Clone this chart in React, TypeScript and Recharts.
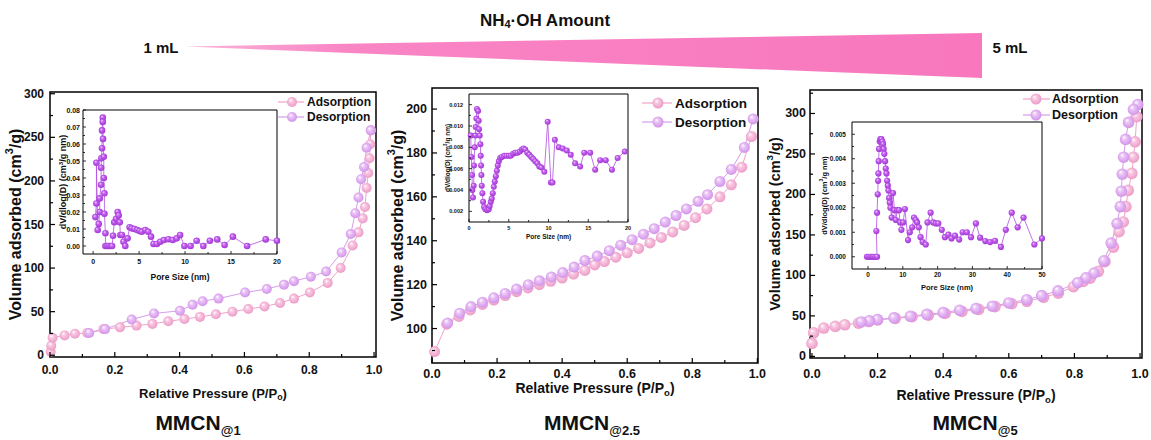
import React from "react";
import { LineChart, Line, XAxis, YAxis, ReferenceArea, Label } from "recharts";

const FONT = "'Liberation Sans', Arial, Helvetica, sans-serif";

// MMCN@1 isotherm (P/Po, cm3/g)
const mmcn1AdsP = [0.002, 0.004, 0.008, 0.045, 0.077, 0.115, 0.165, 0.216, 0.267, 0.316, 0.365, 0.415, 0.463, 0.512, 0.563, 0.612, 0.662, 0.71, 0.753, 0.802, 0.857, 0.897, 0.934, 0.952, 0.965, 0.972, 0.977, 0.982, 0.986, 0.988, 0.99];
const mmcn1AdsV = [4, 11, 20, 22.8, 24.7, 25.5, 30, 32, 34, 36, 39, 41.5, 44, 47, 50, 53, 56, 60, 65, 72, 83, 100, 126, 141, 157, 170, 192, 209, 226, 242, 258];
const mmcn1DesP = [0.99, 0.977, 0.969, 0.96, 0.952, 0.942, 0.928, 0.9, 0.852, 0.805, 0.753, 0.722, 0.669, 0.602, 0.52, 0.471, 0.44, 0.401, 0.321, 0.252, 0.17, 0.121];
const mmcn1DesV = [258, 238, 216, 202, 181, 163, 139, 118, 96, 90, 85, 81, 76, 72, 65, 62, 58, 51, 48, 41, 30, 25.5];

// MMCN@2.5 isotherm
const mmcn25AdsP = [0.008, 0.045, 0.083, 0.118, 0.155, 0.19, 0.225, 0.26, 0.295, 0.33, 0.365, 0.4, 0.435, 0.47, 0.5, 0.53, 0.565, 0.6, 0.635, 0.67, 0.705, 0.74, 0.775, 0.81, 0.845, 0.885, 0.92, 0.952, 0.982];
const mmcn25AdsV = [89.5, 102, 105.5, 108.5, 111, 113, 115, 116.8, 118.5, 120, 121.5, 123, 124.8, 126.5, 129, 130.5, 132.5, 134.5, 136.5, 139, 141.5, 144, 147, 150.5, 154.5, 160, 165.5, 173.5, 187.5];
const mmcn25DesP = [0.987, 0.96, 0.92, 0.885, 0.847, 0.818, 0.782, 0.75, 0.717, 0.683, 0.65, 0.615, 0.58, 0.545, 0.508, 0.47, 0.437, 0.402, 0.367, 0.33, 0.296, 0.26, 0.225, 0.19, 0.155, 0.12, 0.085, 0.048];
const mmcn25DesV = [195.5, 182.5, 172.5, 167, 161, 158, 154.5, 151.5, 148.5, 145.5, 143, 140.5, 138, 135.5, 133, 131, 128, 125.5, 123.5, 121.8, 120, 118, 116, 114, 112, 110, 107, 102.5];

// MMCN@5 isotherm
const mmcn5AdsP = [0.0, 0.005, 0.036, 0.071, 0.1, 0.142, 0.173, 0.2, 0.254, 0.305, 0.355, 0.406, 0.457, 0.508, 0.558, 0.609, 0.655, 0.706, 0.751, 0.797, 0.827, 0.848, 0.873, 0.893, 0.919, 0.936, 0.949, 0.957, 0.964, 0.975, 0.98, 0.985, 0.99];
const mmcn5AdsV = [16, 29, 35, 37, 39, 41, 43, 45, 47, 49, 51, 53, 55.5, 58, 61.5, 65, 68, 73, 78, 86, 92.5, 96.5, 105, 117, 135, 154, 166, 185, 205, 226, 246, 265, 296];
const mmcn5DesP = [0.993, 0.98, 0.965, 0.956, 0.95, 0.946, 0.943, 0.94, 0.93, 0.912, 0.89, 0.86, 0.835, 0.81, 0.75, 0.7, 0.655, 0.6, 0.55, 0.5, 0.45, 0.4, 0.35, 0.3, 0.25, 0.2, 0.175, 0.15];
const mmcn5DesV = [311, 305, 289, 268, 246, 225, 204, 185, 164, 140, 118, 103, 97, 91, 81, 75, 70, 66, 62, 59, 57, 54, 52, 49.5, 47.5, 45.5, 44, 42.5];

// pore size distributions (nm, dV/dlog(D))
const pore1D = [0.25, 0.36, 0.36, 0.5, 0.61, 0.72, 0.72, 0.87, 0.87, 0.9, 0.97, 0.97, 1.05, 1.05, 1.08, 1.16, 1.16, 1.23, 1.23, 1.34, 1.34, 1.5, 1.7, 1.9, 2.06, 2.17, 2.3, 2.5, 2.67, 2.78, 2.9, 2.96, 3.14, 3.3, 3.5, 3.75, 3.97, 4.2, 4.5, 4.8, 5.05, 5.3, 5.67, 6.0, 6.3, 6.57, 6.93, 7.3, 7.7, 8.2, 8.66, 9.1, 9.46, 9.93, 10.6, 11.26, 11.99, 12.7, 13.5, 14.3, 15.2, 16.75, 18.77, 20];
const pore1V = [0.017, 0.025, 0.049, 0.0094, 0.013, 0.02, 0.028, 0.036, 0.046, 0.0516, 0.0575, 0.068, 0.0755, 0.073, 0.063, 0.0525, 0.04, 0.031, 0.019, 0.0075, 0, 0, 0, 0, 0, 0.006, 0.014, 0.016, 0.02, 0.018, 0.014, 0.0065, 0.0065, 0.0025, 0, 0.0045, 0.011, 0.0104, 0.01, 0.0094, 0.0088, 0.0084, 0.0094, 0.0084, 0.0055, 0.0012, 0.0012, 0.0025, 0.0035, 0.004, 0.0035, 0.0045, 0.0065, 0, 0, 0.0031, 0, 0.0031, 0.0039, 0.0006, 0.0055, 0, 0.0039, 0.0031];
const pore25D = [0.21, 0.3, 0.38, 0.42, 0.5, 0.59, 0.63, 0.72, 0.8, 0.84, 0.93, 1.0, 1.14, 1.22, 1.26, 1.35, 1.43, 1.47, 1.52, 1.56, 1.6, 1.68, 1.77, 1.9, 2.06, 2.27, 2.48, 2.6, 2.74, 2.86, 2.99, 3.12, 3.24, 3.37, 3.5, 3.62, 3.75, 3.92, 4.13, 4.42, 4.72, 5.0, 5.26, 5.56, 5.81, 6.1, 6.4, 6.65, 6.86, 7.07, 7.33, 7.58, 7.83, 8.08, 8.34, 8.59, 8.84, 9.1, 9.47, 9.9, 10.3, 10.5, 10.8, 11.3, 11.8, 12.3, 12.8, 13.35, 13.98, 14.5, 15.24, 15.87, 16.5, 17.2, 17.98, 18.7, 19.6];
const pore25V = [0.0091, 0.0071, 0.0054, 0.004, 0.0033, 0.0044, 0.0063, 0.008, 0.0091, 0.0099, 0.0107, 0.0116, 0.0114, 0.0105, 0.0097, 0.0091, 0.0083, 0.0072, 0.0063, 0.0054, 0.0044, 0.0037, 0.0029, 0.0024, 0.0022, 0.0021, 0.0022, 0.0025, 0.0029, 0.0032, 0.0037, 0.0043, 0.0048, 0.0053, 0.0058, 0.0063, 0.0067, 0.007, 0.0071, 0.0072, 0.0072, 0.0072, 0.0072, 0.0074, 0.0075, 0.0075, 0.0076, 0.0078, 0.0079, 0.0078, 0.0075, 0.0073, 0.0071, 0.0069, 0.0067, 0.0065, 0.0062, 0.0061, 0.0057, 0.0104, 0.0047, 0.0047, 0.0087, 0.008, 0.0079, 0.0077, 0.0073, 0.0065, 0.0062, 0.0075, 0.0075, 0.0059, 0.0068, 0.0068, 0.0059, 0.007, 0.0076];
const pore5D = [-0.3, 0.2, 0.7, 1.15, 1.6, 2.1, 2.6, 2.4, 2.6, 2.8, 2.9, 3.0, 3.08, 3.17, 3.37, 3.56, 3.85, 4.13, 4.33, 4.5, 4.7, 4.9, 5.1, 5.3, 5.5, 5.7, 5.87, 6.06, 6.25, 6.44, 6.8, 7.2, 7.6, 8.0, 8.4, 8.9, 9.2, 9.6, 10.1, 10.6, 11.5, 12.0, 12.7, 13.2, 13.75, 14.1, 14.6, 15.1, 15.7, 16.6, 17.1, 18.0, 18.75, 19.5, 20.2, 21.2, 22.1, 23.1, 24.0, 25.0, 26.2, 27.2, 28.4, 29.6, 31.0, 32.2, 33.7, 35.1, 36.5, 38.2, 39.6, 41.3, 43.0, 44.7, 47.8, 50.0];
const pore5V = [0, 0, 0, 0, 0, 0, 0, 0.00105, 0.0018, 0.00255, 0.0031, 0.0034, 0.0039, 0.0044, 0.0047, 0.0048, 0.0048, 0.0047, 0.0046, 0.0044, 0.0042, 0.0039, 0.0036, 0.0034, 0.0031, 0.0029, 0.0027, 0.0024, 0.0022, 0.002, 0.0016, 0.0026, 0.0019, 0.0015, 0.0019, 0.0019, 0.0014, 0.0011, 0.0014, 0.00195, 0.00068, 0.001, 0.0012, 0.0016, 0.0015, 0.0014, 0.0012, 0.0008, 0.0006, 0.0005, 0.0014, 0.0018, 0.0014, 0.00136, 0.00136, 0.0011, 0.0008, 0.0009, 0.00075, 0.00086, 0.0007, 0.001, 0.001, 0.0008, 0.00136, 0.00078, 0.00064, 0.0006, 0.00065, 0.0004, 0.0011, 0.0018, 0.0012, 0.0016, 0.0005, 0.00075];

// ticks
const pressureTicks = [0, 0.1, 0.2, 0.3, 0.4, 0.5, 0.6, 0.7, 0.8, 0.9, 1.0];
const pressureLabels = [0, 0.2, 0.4, 0.6, 0.8, 1.0];
const vol300Ticks = [0, 25, 50, 75, 100, 125, 150, 175, 200, 225, 250, 275, 300];
const vol300Labels = [0, 50, 100, 150, 200, 250, 300];
const vol5Ticks = [0, 25, 50, 75, 100, 125, 150, 175, 200, 225, 250, 275, 300, 325];
const vol200Ticks = [90, 100, 110, 120, 130, 140, 150, 160, 170, 180, 190, 200];
const vol200Labels = [100, 120, 140, 160, 180, 200];
const pore20Ticks = [0, 2.5, 5, 7.5, 10, 12.5, 15, 17.5, 20];
const pore20Labels = [0, 5, 10, 15, 20];
const pore50Ticks = [0, 5, 10, 15, 20, 25, 30, 35, 40, 45, 50];
const pore50Labels = [0, 10, 20, 30, 40, 50];
const psd1Ticks = [0, 0.005, 0.01, 0.015, 0.02, 0.025, 0.03, 0.035, 0.04, 0.045, 0.05, 0.055, 0.06, 0.065, 0.07, 0.075, 0.08];
const psd1Labels = [0, 0.01, 0.02, 0.03, 0.04, 0.05, 0.06, 0.07, 0.08];
const psd25Ticks = [0.002, 0.003, 0.004, 0.005, 0.006, 0.007, 0.008, 0.009, 0.01, 0.011, 0.012];
const psd25Labels = [0.002, 0.004, 0.006, 0.008, 0.01, 0.012];
const psd5Ticks = [0, 0.0005, 0.001, 0.0015, 0.002, 0.0025, 0.003, 0.0035, 0.004, 0.0045, 0.005];
const psd5Labels = [0, 0.001, 0.002, 0.003, 0.004, 0.005];

const legendLabels = ["Adsorption", "Desorption"];
const sampleNames = ["1", "2.5", "5"];

type Pt = { x: number; y: number };
const zip = (xs: number[], ys: number[]): Pt[] => xs.map((x, i) => ({ x, y: ys[i] }));
const near = (list: number[], v: number) => list.some((m) => Math.abs(m - v) < 1e-9);

interface Title { pre: string; script: string; post: string; up: boolean }
const pressureTitle: Title = { pre: "Relative Pressure (P/P", script: "o", post: ")", up: false };
const volumeTitle: Title = { pre: "Volume adsorbed (cm", script: "3", post: "/g)", up: true };
const poreTitle: Title = { pre: "Pore Size (nm)", script: "", post: "", up: false };
const psdTitle: Title = { pre: "dV/dlog(D) (cm", script: "3", post: "/g nm)", up: true };

function titleSpans(t: Title, fs: number) {
  if (!t.script) return t.pre;
  const shift = t.up ? -fs * 0.38 : fs * 0.3;
  return [
    <tspan key="a">{t.pre}</tspan>,
    <tspan key="b" dy={shift} fontSize={fs * 0.68}>{t.script}</tspan>,
    <tspan key="c" dy={-shift}>{t.post}</tspan>,
  ];
}

interface Series { data: Pt[]; stroke: string; fill: string; r: number; width: number }
interface PlotProps {
  left: number; top: number; width: number; height: number;
  mTop: number; mRight: number; yWidth: number; xHeight: number;
  xDomain: [number, number]; yDomain: [number, number];
  xTicks: number[]; xMajor: number[]; yTicks: number[]; yMajor: number[];
  xFmt: (v: number) => string; yFmt: (v: number) => string;
  tickFont: number; xGap: number; yGap: number; majorLen: number; minorLen: number; frame: number;
  xTitle: Title; xTitleDy: number; xTitleFont: number;
  yTitle: Title; yTitleX: number; yTitleFont: number;
  series: Series[];
}

function Plot(p: PlotProps) {
  const plotW = p.width - p.yWidth - p.mRight;
  const plotH = p.height - p.mTop - p.xHeight;
  const textProps = { fontFamily: FONT, fontWeight: "bold" as const, fill: "#111" };

  const yTick = (props: any) => {
    const { x, y, payload } = props;
    const major = near(p.yMajor, payload.value);
    const ax = x + p.yGap;
    return (
      <g>
        <line x1={ax} x2={ax + (major ? p.majorLen : p.minorLen)} y1={y} y2={y} stroke="#000" strokeWidth={p.frame * 0.8} />
        {major && (
          <text x={x} y={y} textAnchor="end" dominantBaseline="central" fontSize={p.tickFont} {...textProps}>
            {p.yFmt(payload.value)}
          </text>
        )}
      </g>
    );
  };
  const xTick = (props: any) => {
    const { x, y, payload } = props;
    const major = near(p.xMajor, payload.value);
    const ay = y - p.xGap;
    return (
      <g>
        <line x1={x} x2={x} y1={ay} y2={ay - (major ? p.majorLen : p.minorLen)} stroke="#000" strokeWidth={p.frame * 0.8} />
        {major && (
          <text x={x} y={y} dy="0.74em" textAnchor="middle" fontSize={p.tickFont} {...textProps}>
            {p.xFmt(payload.value)}
          </text>
        )}
      </g>
    );
  };
  const xLabel = () => (
    <text x={p.yWidth + plotW / 2} y={p.mTop + plotH + p.xTitleDy} textAnchor="middle" dominantBaseline="central" fontSize={p.xTitleFont} {...textProps}>
      {titleSpans(p.xTitle, p.xTitleFont)}
    </text>
  );
  const yLabel = () => {
    const cx = p.yTitleX;
    const cy = p.mTop + plotH / 2;
    return (
      <text x={cx} y={cy} transform={`rotate(-90 ${cx} ${cy})`} textAnchor="middle" dominantBaseline="central" fontSize={p.yTitleFont} {...textProps}>
        {titleSpans(p.yTitle, p.yTitleFont)}
      </text>
    );
  };

  return (
    <div style={{ position: "absolute", left: p.left, top: p.top, width: p.width, height: p.height }}>
      <LineChart width={p.width} height={p.height} margin={{ top: p.mTop, right: p.mRight, left: 0, bottom: 0 }}>
        <XAxis type="number" dataKey="x" domain={p.xDomain} allowDataOverflow ticks={p.xTicks} interval={0}
          height={p.xHeight} tickSize={0} tickMargin={p.xGap} tickLine={false} axisLine={false} tick={xTick}>
          <Label content={xLabel} />
        </XAxis>
        <YAxis type="number" domain={p.yDomain} allowDataOverflow ticks={p.yTicks} interval={0}
          width={p.yWidth} tickSize={0} tickMargin={p.yGap} tickLine={false} axisLine={false} tick={yTick}>
          <Label content={yLabel} />
        </YAxis>
        <ReferenceArea x1={p.xDomain[0]} x2={p.xDomain[1]} y1={p.yDomain[0]} y2={p.yDomain[1]}
          fill="none" stroke="#000" strokeWidth={p.frame} ifOverflow="visible" />
        {p.series.map((s, i) => (
          <Line key={i} data={s.data} dataKey="y" type="linear" stroke={s.stroke} strokeWidth={s.width}
            dot={{ r: s.r, fill: s.fill, stroke: "none", strokeWidth: 0, clipDot: false } as any}
            activeDot={false} isAnimationActive={false} />
        ))}
      </LineChart>
    </div>
  );
}

const PINK = "#EFA3CB";
const VIOLET = "#D59DEA";
const PURPLE = "#B24CE0";
const fmt1 = (v: number) => v.toFixed(1);
const fmt0 = (v: number) => String(Math.round(v));
const fmt2 = (v: number) => v.toFixed(2);
const fmt3 = (v: number) => v.toFixed(3);

const mainCommon = {
  xTicks: pressureTicks, xMajor: pressureLabels, xFmt: fmt1, yFmt: fmt0,
  majorLen: 5, minorLen: 3, frame: 1.5,
  xTitle: pressureTitle, yTitle: volumeTitle,
};
const insetCommon = { xFmt: fmt0, majorLen: 3, minorLen: 2, frame: 1, xTitle: poreTitle, yTitle: psdTitle };

function iso(ads: Pt[], des: Pt[], r: number): Series[] {
  return [
    { data: ads, stroke: PINK, fill: "url(#gPink)", r, width: 1 },
    { data: des, stroke: VIOLET, fill: "url(#gViolet)", r, width: 1 },
  ];
}

function LegendBox({ x1, x2, cx, tx, ys, r, font }: { x1: number; x2: number; cx: number; tx: number; ys: number[]; r: number; font: number }) {
  const cols = [PINK, VIOLET];
  const fills = ["url(#gPink)", "url(#gViolet)"];
  return (
    <g>
      {legendLabels.map((name, i) => (
        <g key={name}>
          <line x1={x1} x2={x2} y1={ys[i]} y2={ys[i]} stroke={cols[i]} strokeWidth={1.2} />
          <circle cx={cx} cy={ys[i]} r={r} fill={fills[i]} />
          <text x={tx} y={ys[i]} dominantBaseline="central" fontFamily={FONT} fontWeight="bold" fontSize={font} fill="#111">{name}</text>
        </g>
      ))}
    </g>
  );
}

export default function App() {
  return (
    <div style={{ position: "absolute", left: 0, top: 0, width: 1151, height: 440, background: "#fff", overflow: "hidden" }}>
      <svg width={0} height={0} style={{ position: "absolute" }}>
        <defs>
          <radialGradient id="gPink" cx="0.5" cy="0.5" r="0.6" fx="0.35" fy="0.3">
            <stop offset="0" stopColor="#ffffff" />
            <stop offset="0.3" stopColor="#F9C9E2" />
            <stop offset="1" stopColor="#E891C1" />
          </radialGradient>
          <radialGradient id="gViolet" cx="0.5" cy="0.5" r="0.6" fx="0.35" fy="0.3">
            <stop offset="0" stopColor="#ffffff" />
            <stop offset="0.3" stopColor="#EBC5F6" />
            <stop offset="1" stopColor="#CC88E6" />
          </radialGradient>
          <radialGradient id="gPurple" cx="0.5" cy="0.5" r="0.6" fx="0.35" fy="0.3">
            <stop offset="0" stopColor="#F4D2FF" />
            <stop offset="0.35" stopColor="#C364F0" />
            <stop offset="1" stopColor="#9A2ACB" />
          </radialGradient>
          <linearGradient id="gTri" x1="0" y1="0" x2="1" y2="0">
            <stop offset="0" stopColor="#FBB4DA" />
            <stop offset="0.2" stopColor="#F985C5" />
            <stop offset="1" stopColor="#F877BD" />
          </linearGradient>
        </defs>
      </svg>

      <Plot {...mainCommon} left={0} top={80} width={390} height={330} mTop={12} mRight={14} yWidth={50} xHeight={53}
        xDomain={[0, 1.006]} yDomain={[-2, 302]} yTicks={vol300Ticks} yMajor={vol300Labels}
        tickFont={12} xGap={8} yGap={6} xTitleDy={36} xTitleFont={13} yTitleX={15} yTitleFont={16}
        series={iso(zip(mmcn1AdsP, mmcn1AdsV), zip(mmcn1DesP, mmcn1DesV), 5)} />
      <Plot {...mainCommon} left={385} top={80} width={390} height={330} mTop={8} mRight={17} yWidth={47} xHeight={47}
        xDomain={[0, 1.002]} yDomain={[84.3, 209.6]} yTicks={vol200Ticks} yMajor={vol200Labels}
        tickFont={12.5} xGap={5.5} yGap={5} xTitleDy={25} xTitleFont={14} yTitleX={12} yTitleFont={16}
        series={iso(zip(mmcn25AdsP, mmcn25AdsV), zip(mmcn25DesP, mmcn25DesV), 5.5)} />
      <Plot {...mainCommon} left={765} top={80} width={386} height={330} mTop={10} mRight={9} yWidth={45} xHeight={52}
        xDomain={[-0.006, 1.006]} yDomain={[-2, 329]} yTicks={vol5Ticks} yMajor={vol300Labels}
        tickFont={12.5} xGap={11} yGap={4} xTitleDy={37} xTitleFont={14} yTitleX={10} yTitleFont={14.5}
        series={iso(zip(mmcn5AdsP, mmcn5AdsV), zip(mmcn5DesP, mmcn5DesV), 5.8)} />

      <Plot {...insetCommon} left={40} top={100} width={245} height={190} mTop={10} mRight={8} yWidth={43} xHeight={36}
        xDomain={[-1.1, 20]} yDomain={[-0.0047, 0.08]} xTicks={pore20Ticks} xMajor={pore20Labels}
        yTicks={psd1Ticks} yMajor={psd1Labels} yFmt={fmt2}
        tickFont={7} xGap={5} yGap={3} xTitleDy={23} xTitleFont={8.5} yTitleX={23} yTitleFont={9}
        series={[{ data: zip(pore1D, pore1V), stroke: PURPLE, fill: "url(#gPurple)", r: 3.3, width: 0.8 }]} />
      <Plot {...insetCommon} left={440} top={85} width={200} height={160} mTop={9} mRight={12} yWidth={29} xHeight={23}
        xDomain={[0, 20]} yDomain={[0.001, 0.013]} xTicks={pore20Ticks} xMajor={pore20Labels}
        yTicks={psd25Ticks} yMajor={psd25Labels} yFmt={fmt3}
        tickFont={5.5} xGap={4} yGap={6} xTitleDy={14} xTitleFont={6.5} yTitleX={7} yTitleFont={6.5}
        series={[{ data: zip(pore25D, pore25V), stroke: PURPLE, fill: "url(#gPurple)", r: 3, width: 0.8 }]} />
      <Plot {...insetCommon} left={810} top={110} width={240} height={190} mTop={12} mRight={8} yWidth={42} xHeight={31}
        xDomain={[-4.6, 50]} yDomain={[-0.0005, 0.0055]} xTicks={pore50Ticks} xMajor={pore50Labels}
        yTicks={psd5Ticks} yMajor={psd5Labels} yFmt={fmt3}
        tickFont={6.5} xGap={3.5} yGap={6} xTitleDy={18} xTitleFont={7.5} yTitleX={14} yTitleFont={7.5}
        series={[{ data: zip(pore5D, pore5V), stroke: PURPLE, fill: "url(#gPurple)", r: 3.1, width: 0.8 }]} />

      <svg width={1151} height={440} style={{ position: "absolute", left: 0, top: 0, pointerEvents: "none" }}>
        <polygon points="185,46.5 982,33 982,78" fill="url(#gTri)" />
        <text x={545} y={20} textAnchor="middle" dominantBaseline="central" fontFamily={FONT} fontWeight="bold" fontSize={17} fill="#111">
          NH<tspan dy={4} fontSize={11}>4</tspan><tspan dy={-4}>·OH Amount</tspan>
        </text>
        <text x={161} y={47} textAnchor="middle" dominantBaseline="central" fontFamily={FONT} fontWeight="bold" fontSize={15} fill="#111">1 mL</text>
        <text x={1010} y={47} textAnchor="middle" dominantBaseline="central" fontFamily={FONT} fontWeight="bold" fontSize={15} fill="#111">5 mL</text>

        <LegendBox x1={278} x2={304} cx={292} tx={307} ys={[102, 117]} r={5} font={12} />
        <LegendBox x1={642} x2={672} cx={658} tx={675} ys={[103, 122]} r={5.5} font={13.5} />
        <LegendBox x1={1023} x2={1050} cx={1036} tx={1052} ys={[99, 115]} r={5.5} font={12.5} />

        {sampleNames.map((s, i) => (
          <text key={s} x={[198, 592, 975][i]} y={430} textAnchor="middle" fontFamily={FONT} fontWeight="bold" fontSize={21} fill="#111">
            MMCN<tspan dy={5} fontSize={13}>@{s}</tspan>
          </text>
        ))}
      </svg>
    </div>
  );
}
